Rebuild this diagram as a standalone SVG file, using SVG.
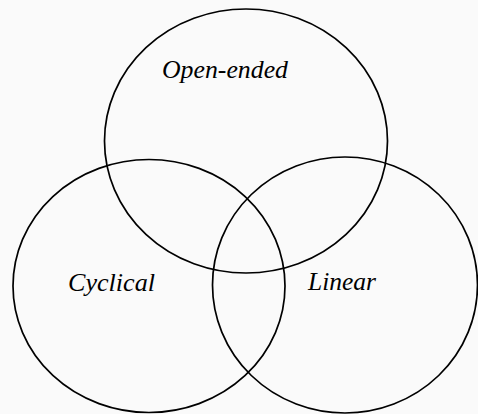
<svg xmlns="http://www.w3.org/2000/svg" width="478" height="414" viewBox="0 0 478 414">
  <style>
    .c { fill: none; stroke: #000; stroke-width: 1.7; }
    .t { font-family: 'Liberation Serif', 'Times New Roman', serif; font-style: italic; font-size: 25.5px; fill: #000; }
  </style>
  <rect x="0" y="0" width="478" height="414" fill="#fafafa"/>
  <g id="open-ended">
    <ellipse class="c" cx="246" cy="141" rx="141.5" ry="132"/>
    <text class="t" x="162" y="78" textLength="126" lengthAdjust="spacingAndGlyphs">Open-ended</text>
  </g>
  <g id="cyclical">
    <ellipse class="c" cx="149" cy="286" rx="136" ry="126.5"/>
    <text class="t" x="68" y="291" textLength="87" lengthAdjust="spacingAndGlyphs">Cyclical</text>
  </g>
  <g id="linear">
    <ellipse class="c" cx="345" cy="285" rx="132.5" ry="128"/>
    <text class="t" x="308" y="290" textLength="68" lengthAdjust="spacingAndGlyphs">Linear</text>
  </g>
  <g id="connectors"/>
</svg>
